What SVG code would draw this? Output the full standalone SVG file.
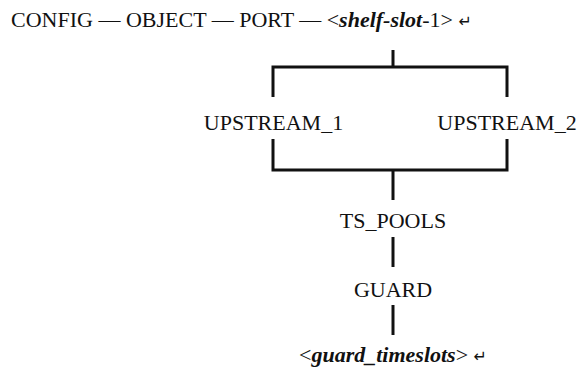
<svg xmlns="http://www.w3.org/2000/svg" width="579" height="373" viewBox="0 0 579 373">
<style>
text{font-family:"Liberation Serif","DejaVu Serif",serif;font-size:22px;fill:#111}
.c{text-anchor:middle}
.i{font-style:italic;font-weight:bold}
.conn{stroke:#111;stroke-width:3;fill:none}
</style>
<rect width="579" height="373" fill="#fff"/>
<g id="header"><text x="11" y="27">CONFIG — OBJECT — PORT — &lt;<tspan class="i">shelf-slot</tspan>-1&gt; <tspan font-family="DejaVu Sans" font-size="16">↵</tspan></text></g>
<g id="connectors">
<path class="conn" d="M393 50V67M273 97V67H507V97"/>
<path class="conn" d="M273 139V170H507V139M393 170V200"/>
<path class="conn" d="M393 237V267"/>
<path class="conn" d="M393 305V335"/>
</g>
<g id="upstream1"><text class="c" x="273.5" y="130">UPSTREAM_1</text></g>
<g id="upstream2"><text class="c" x="507" y="130">UPSTREAM_2</text></g>
<g id="ts_pools"><text class="c" x="393" y="228">TS_POOLS</text></g>
<g id="guard"><text class="c" x="393" y="297">GUARD</text></g>
<g id="guard_timeslots"><text class="c" x="393" y="362">&lt;<tspan class="i">guard_timeslots</tspan>&gt; <tspan font-family="DejaVu Sans" font-size="16">↵</tspan></text></g>
</svg>
